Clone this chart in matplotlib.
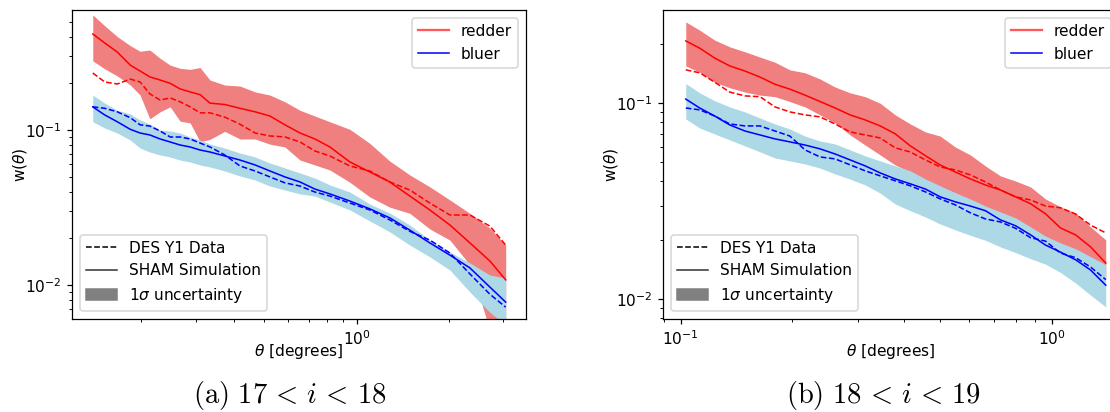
import matplotlib.pyplot as plt
from matplotlib.lines import Line2D
from matplotlib.patches import Patch

# ---- panel (a): 17 < i < 18 ----
theta_a = [0.139, 0.152, 0.167, 0.184, 0.198, 0.213, 0.230, 0.248, 0.267, 0.288,
           0.310, 0.334, 0.373, 0.418, 0.468, 0.523, 0.585, 0.655, 0.732, 0.819,
           0.951, 1.104, 1.282, 1.489, 1.729, 2.009, 2.333, 2.709, 3.05]
red_hi_a = [0.552, 0.47, 0.40, 0.35, 0.322, 0.328, 0.29, 0.262, 0.25, 0.246,
            0.253, 0.210, 0.195, 0.192, 0.176, 0.168, 0.152, 0.134, 0.123, 0.113,
            0.101, 0.082, 0.063, 0.0513, 0.043, 0.0354, 0.029, 0.0233, 0.0181]
red_lo_a = [0.279, 0.248, 0.223, 0.195, 0.168, 0.118, 0.131, 0.141, 0.114, 0.111,
            0.084, 0.087, 0.098, 0.0875, 0.0875, 0.081, 0.0777, 0.064, 0.0595, 0.0552,
            0.046, 0.037, 0.0318, 0.029, 0.023, 0.0195, 0.0135, 0.0051, 0.0038]
red_sim_a = [0.416, 0.364, 0.318, 0.262, 0.240, 0.22, 0.210, 0.200, 0.184, 0.176,
             0.169, 0.149, 0.146, 0.138, 0.131, 0.123, 0.108, 0.0956, 0.0875, 0.0777,
             0.0622, 0.0536, 0.0462, 0.0375, 0.0305, 0.0244, 0.0187, 0.0143, 0.0108]
red_data_a = [0.233, 0.204, 0.198, 0.213, 0.204, 0.171, 0.156, 0.161, 0.152, 0.141,
              0.129, 0.129, 0.121, 0.109, 0.0956, 0.0915, 0.0902, 0.0837, 0.0732, 0.068,
              0.0586, 0.0544, 0.0462, 0.041, 0.0338, 0.0283, 0.0283, 0.024, 0.0181]
blue_hi_a = [0.168, 0.149, 0.134, 0.127, 0.116, 0.109, 0.100, 0.0985, 0.0956, 0.0901,
             0.0861, 0.0812, 0.0765, 0.0710, 0.0670, 0.0612, 0.0569, 0.0528, 0.0490, 0.0442,
             0.0398, 0.0333, 0.0291, 0.0244, 0.0195, 0.0163, 0.0139, 0.0116, 0.0111]
blue_lo_a = [0.113, 0.103, 0.0956, 0.0861, 0.0765, 0.0721, 0.069, 0.067, 0.064, 0.0622,
             0.0595, 0.0577, 0.0544, 0.0505, 0.0476, 0.0435, 0.041, 0.0387, 0.0375, 0.0343,
             0.0305, 0.0259, 0.022, 0.0181, 0.0152, 0.0125, 0.00902, 0.00667, 0.0055]
blue_sim_a = [0.141, 0.125, 0.113, 0.101, 0.0956, 0.0929, 0.0875, 0.0837, 0.080, 0.0777,
              0.0743, 0.0721, 0.068, 0.064, 0.0595, 0.0544, 0.0498, 0.0462, 0.0416, 0.0387,
              0.0348, 0.031, 0.0271, 0.0226, 0.0187, 0.0156, 0.0129, 0.00971, 0.00776]
blue_data_a = [0.141, 0.138, 0.131, 0.120, 0.108, 0.106, 0.0985, 0.0901, 0.0901, 0.0875,
               0.0824, 0.0777, 0.069, 0.0586, 0.0544, 0.0498, 0.0456, 0.0435, 0.0398, 0.0375,
               0.0338, 0.0305, 0.0263, 0.0222, 0.0195, 0.0161, 0.0118, 0.00873, 0.0072]

# ---- panel (b): 18 < i < 19 ----
theta_b = [0.1032, 0.1125, 0.1235, 0.1356, 0.149, 0.1636, 0.1795, 0.197, 0.2164, 0.2376,
           0.2608, 0.2863, 0.3144, 0.3451, 0.379, 0.416, 0.457, 0.501, 0.550, 0.604,
           0.663, 0.728, 0.800, 0.878, 0.963, 1.057, 1.161, 1.274, 1.40]
red_hi_b = [0.260, 0.236, 0.210, 0.194, 0.183, 0.172, 0.162, 0.148, 0.143, 0.133,
            0.121, 0.113, 0.108, 0.100, 0.0872, 0.0784, 0.0714, 0.068, 0.0598, 0.0545,
            0.0479, 0.0426, 0.0401, 0.0374, 0.0325, 0.0296, 0.0276, 0.0234, 0.0201]
red_lo_b = [0.155, 0.144, 0.128, 0.120, 0.114, 0.110, 0.108, 0.102, 0.0958, 0.0872,
            0.0793, 0.0689, 0.0612, 0.0545, 0.0484, 0.0446, 0.0406, 0.0374, 0.0349, 0.0321,
            0.0296, 0.0273, 0.0249, 0.0226, 0.0201, 0.0179, 0.0163, 0.0145, 0.0126]
red_sim_b = [0.208, 0.191, 0.170, 0.155, 0.146, 0.136, 0.125, 0.118, 0.110, 0.102,
             0.0946, 0.0872, 0.0822, 0.0766, 0.0698, 0.0606, 0.054, 0.0484, 0.0446, 0.0411,
             0.0383, 0.0361, 0.0333, 0.0307, 0.0273, 0.0231, 0.0213, 0.0185, 0.0153]
red_data_b = [0.148, 0.143, 0.128, 0.114, 0.109, 0.108, 0.0958, 0.0903, 0.0872, 0.0852,
              0.0784, 0.0714, 0.0689, 0.0665, 0.0592, 0.0564, 0.0514, 0.0473, 0.0457, 0.0431,
              0.0397, 0.0361, 0.0333, 0.0321, 0.0299, 0.0293, 0.0272, 0.0239, 0.0218]
blue_hi_b = [0.126, 0.113, 0.103, 0.0958, 0.0903, 0.0841, 0.0784, 0.0739, 0.068, 0.0642,
             0.0620, 0.0578, 0.0539, 0.0508, 0.0479, 0.0452, 0.0411, 0.0379, 0.0349, 0.0325,
             0.0299, 0.0279, 0.026, 0.0234, 0.021, 0.0194, 0.0181, 0.0165, 0.015]
blue_lo_b = [0.0832, 0.0748, 0.0697, 0.065, 0.0606, 0.0565, 0.0526, 0.0508, 0.049, 0.0467,
             0.0436, 0.041, 0.0383, 0.0348, 0.0306, 0.0283, 0.0263, 0.0242, 0.0226, 0.0212,
             0.02, 0.0185, 0.0173, 0.0161, 0.0151, 0.0137, 0.0121, 0.0105, 0.00914]
blue_sim_b = [0.105, 0.0946, 0.0861, 0.0775, 0.0722, 0.0689, 0.0658, 0.0635, 0.0612, 0.0585,
              0.0551, 0.0514, 0.0479, 0.0441, 0.0411, 0.0388, 0.0365, 0.0333, 0.0314, 0.0299,
              0.0283, 0.0254, 0.0237, 0.0213, 0.0189, 0.0174, 0.0159, 0.0141, 0.0118]
blue_data_b = [0.0946, 0.0925, 0.0861, 0.0784, 0.0766, 0.0766, 0.0722, 0.068, 0.0578, 0.0532,
               0.0520, 0.0485, 0.0452, 0.0426, 0.0402, 0.0379, 0.0353, 0.0325, 0.0303, 0.0276,
               0.0257, 0.0248, 0.023, 0.0206, 0.0198, 0.0172, 0.0163, 0.0146, 0.0126]

captions = [r"$\mathrm{(a)}\ 17 \,<\, i \,<\, 18$", r"$\mathrm{(b)}\ 18 \,<\, i \,<\, 19$"]


def panel(ax, th, rhi, rlo, rsim, rdat, bhi, blo, bsim, bdat, xlim, ylim):
    ax.fill_between(th, rlo, rhi, color='lightcoral', lw=0)
    ax.fill_between(th, blo, bhi, color='lightblue', lw=0)
    ax.plot(th, rsim, color='red', lw=1)
    ax.plot(th, rdat, color='red', lw=1, ls='--')
    ax.plot(th, bsim, color='blue', lw=1)
    ax.plot(th, bdat, color='blue', lw=1, ls='--')
    ax.set_xscale('log')
    ax.set_yscale('log')
    ax.set_xlim(*xlim)
    ax.set_ylim(*ylim)
    ax.set_xlabel(r'$\theta$ [degrees]', labelpad=-4)
    ax.set_ylabel(r'w($\theta$)', labelpad=-3)

    h1 = [Line2D([], [], color='red', alpha=0.65, lw=1.5),
          Line2D([], [], color='blue', lw=1)]
    leg1 = ax.legend(h1, ['redder', 'bluer'], loc='upper right')
    ax.add_artist(leg1)
    h2 = [Line2D([], [], color='k', ls='--', lw=1),
          Line2D([], [], color='k', lw=1, alpha=0.8),
          Patch(color='gray')]
    ax.legend(h2, ['DES Y1 Data', 'SHAM Simulation', r'1$\sigma$ uncertainty'],
              loc='lower left')


fig = plt.figure(figsize=(10, 412 / 111), dpi=111)
ax1 = fig.add_axes([72 / 1110, 1 - 319 / 412, 454 / 1110, 309 / 412])
ax2 = fig.add_axes([663 / 1110, 1 - 319 / 412, 456 / 1110, 309 / 412])

panel(ax1, theta_a, red_hi_a, red_lo_a, red_sim_a, red_data_a,
      blue_hi_a, blue_lo_a, blue_sim_a, blue_data_a, (0.119, 3.55), (0.00604, 0.594))
panel(ax2, theta_b, red_hi_b, red_lo_b, red_sim_b, red_data_b,
      blue_hi_b, blue_lo_b, blue_sim_b, blue_data_b, (0.0896, 1.52), (0.00793, 0.299))

fig.text(290 / 1110, 1 - 396 / 412, captions[0], ha='center', va='center',
         fontsize=18.5, math_fontfamily='cm')
fig.text(884 / 1110, 1 - 396 / 412, captions[1], ha='center', va='center',
         fontsize=18.5, math_fontfamily='cm')

fig.savefig('out.png', dpi=111)
